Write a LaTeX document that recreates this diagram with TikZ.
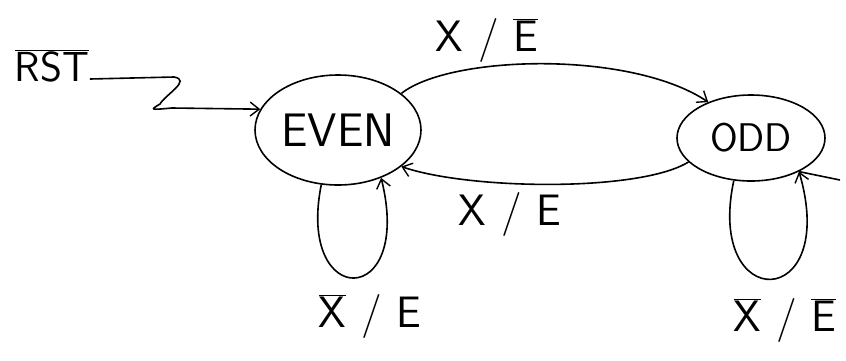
\documentclass[tikz,border=0pt]{standalone}
\usetikzlibrary{shapes.geometric,arrows.meta}
\begin{document}
\begin{tikzpicture}[x=1pt,y=-1pt,
  line width=1.6pt,
  state/.style={draw,ellipse,inner sep=0pt,font=\sffamily},
  wire/.style={draw,-{Straight Barb[length=9pt,width=14pt,line width=1.4pt]}},
  lbl/.style={font=\sffamily\fontsize{44}{50}\selectfont,inner sep=0pt}]
\useasboundingbox (0,0) rectangle (846,360);
\node[state,minimum width=166pt,minimum height=110pt,font=\sffamily\fontsize{47}{54}\selectfont] (even) at (338,130) {EVEN};
\node[state,minimum width=148pt,minimum height=86pt,font=\sffamily\fontsize{40}{46}\selectfont] (odd) at (751,138) {ODD};
\node[lbl,font=\sffamily\fontsize{42}{48}\selectfont] (rst) at (52,66) {$\overline{\mbox{RST}}$};
\coordinate (w1) at (174,77);
\coordinate (w2) at (160,104);
\coordinate (w3) at (172,108);
\coordinate (oe) at (840,180);
\draw (rst.east |- 0,79) -- (w1) .. controls (192,80) and (165,95) .. (w2) .. controls (150,110) .. (w3);
\draw[wire] (w3) -- (even.165);
\draw[wire] (even.30) .. controls (450,55) and (630,50) .. (odd.140);
\draw[wire] (odd.201) .. controls (640,192) and (470,190) .. (even.330);
\draw[wire] (even.253) .. controls (296,310) and (414,310) .. (even.312);
\draw[wire] (odd.248) .. controls (705,315) and (840,312) .. (odd.325);
\draw (odd.325) -- (oe);
\node[lbl] (l1) at (487,40) {X\,\,/\,\,$\overline{\mbox{E}}$};
\node[lbl] (l2) at (510,214) {X\,\,/\,\,E};
\node[lbl] (l3) at (370,316) {$\overline{\mbox{X}}$\,\,/\,\,E};
\node[lbl] (l4) at (785,320) {$\overline{\mbox{X}}$\,\,/\,\,$\overline{\mbox{E}}$};
\end{tikzpicture}
\end{document}
